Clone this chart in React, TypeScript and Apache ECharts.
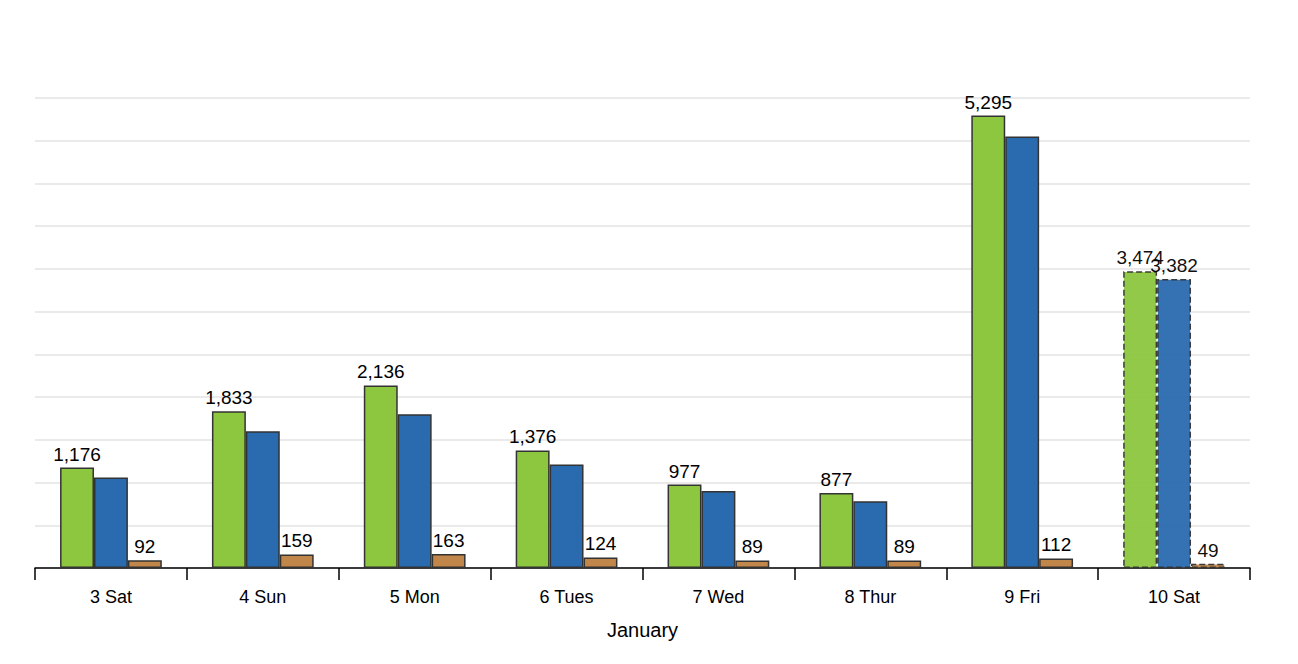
import { useEffect, useRef } from 'react';
import * as echarts from 'echarts';

const days = ['3 Sat', '4 Sun', '5 Mon', '6 Tues', '7 Wed', '8 Thur', '9 Fri', '10 Sat'];
const greenValues = [1176, 1833, 2136, 1376, 977, 877, 5295, 3474];
const blueValues = [1060, 1600, 1800, 1210, 900, 780, 5050, 3382];
const orangeValues = [92, 159, 163, 124, 89, 89, 112, 49];

const font = 'Helvetica, Arial, "Liberation Sans", sans-serif';

const makeData = (values: number[], showLast: boolean) =>
  values.map((v, i) => {
    const last = i === values.length - 1;
    return {
      value: v,
      itemStyle: last ? { borderType: 'dashed', opacity: 0.95 } : undefined,
      label: showLast ? { show: last } : undefined,
    };
  });

export default function App() {
  const chartRef = useRef<HTMLDivElement>(null);

  useEffect(() => {
    if (!chartRef.current) return;
    const myChart = echarts.init(chartRef.current, null, { renderer: 'svg' });

    const label = {
      show: true,
      position: 'top',
      color: '#000',
      fontSize: 19,
      fontFamily: font,
      distance: 4,
      formatter: (p: any) => p.value.toLocaleString('en-US'),
    };
    const border = { borderColor: '#333', borderWidth: 1.5 };

    const option = {
      animation: false,
      grid: { left: 27, right: 40, top: 90, bottom: 88 },
      xAxis: {
        type: 'category',
        data: days,
        name: 'January',
        nameLocation: 'middle',
        nameGap: 52,
        nameTextStyle: { color: '#000', fontSize: 20, fontFamily: font },
        axisLine: { lineStyle: { color: '#000', width: 1.5 } },
        axisTick: { show: true, length: 12, lineStyle: { color: '#000', width: 1.5 } },
        axisLabel: { color: '#000', fontSize: 18, fontFamily: font, margin: 20 },
      },
      yAxis: {
        type: 'value',
        min: 0,
        max: 5500,
        interval: 500,
        axisLabel: { show: false },
        axisLine: { show: false },
        axisTick: { show: false },
        splitLine: { lineStyle: { color: '#eaeaea', width: 2 } },
      },
      series: [
        {
          type: 'bar',
          data: makeData(greenValues, false),
          barGap: '0%',
          barCategoryGap: '33%',
          itemStyle: { color: '#8dc63f', ...border },
          label,
        },
        {
          type: 'bar',
          data: makeData(blueValues, true),
          itemStyle: { color: '#2a6aaf', ...border },
          label: { ...label, show: false },
        },
        {
          type: 'bar',
          data: makeData(orangeValues, false),
          itemStyle: { color: '#c0864a', ...border },
          label,
        },
      ],
    };

    myChart.setOption(option);
    const handleResize = () => myChart.resize();
    window.addEventListener('resize', handleResize);
    return () => {
      window.removeEventListener('resize', handleResize);
      myChart.dispose();
    };
  }, []);

  return <div ref={chartRef} style={{ width: 1282, height: 648 }} />;
}
